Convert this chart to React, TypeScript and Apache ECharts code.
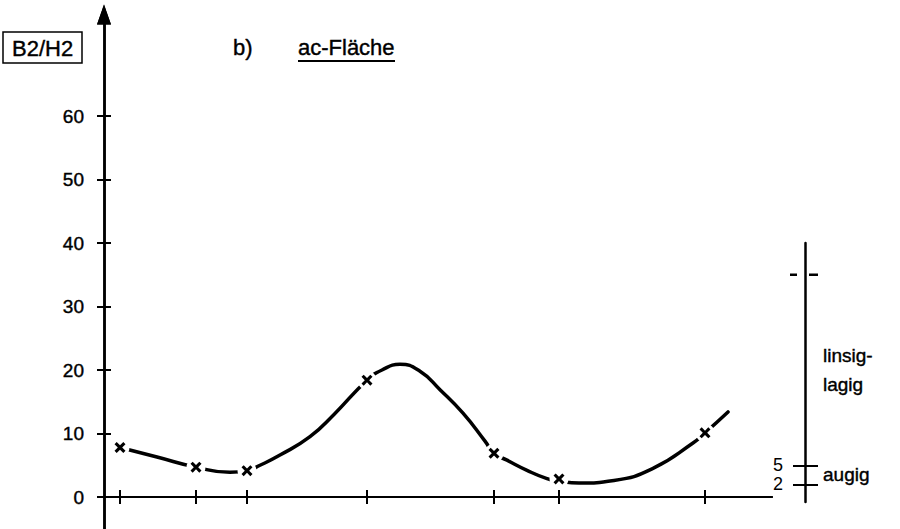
import React, { useEffect, useRef } from "react";
import * as echarts from "echarts";

// positions along the profile (x, arbitrary units) of the sampled points / ticks
const sampleX = [1.6, 9.2, 14.3, 26.3, 39.0, 45.5, 60.1];
// B2/H2 values at the samples (x markers)
const sampleY = [7.8, 4.7, 4.15, 18.4, 6.9, 2.85, 10.1];
// hand-drawn curve
const curveX = [1.6, 5.3, 9.2, 12.6, 14.3, 15.6, 17.6, 20.6, 23.0, 26.3, 27.8, 29.6, 31.6, 33.6, 35.9, 38.1, 39.0, 40.3, 42.3, 44.3, 45.5, 47.5, 51.0, 54.9, 58.9, 60.1, 62.4];
const curveY = [7.8, 6.3, 4.7, 3.9, 4.15, 5.0, 6.6, 9.5, 13.0, 18.4, 20.0, 20.9, 19.8, 16.9, 13.2, 8.8, 6.9, 5.8, 4.2, 2.9, 2.5, 2.2, 2.6, 4.5, 8.5, 10.1, 13.4];
// left axis ticks
const yTicks = [0, 10, 20, 30, 40, 50, 60];
// right (classification) axis
const rightTicks = [2, 5];
const rightMark = [35];
const classPos = [20, 3.5];
const classLabels = ["linsig-\nlagig", "augig"];

const FONT = "Liberation Sans, Arial, sans-serif";
const TXT = { color: "#000", fontFamily: FONT, textBorderColor: "#000", textBorderWidth: 0.4 };

export default function App() {
  const ref = useRef<HTMLDivElement>(null);
  useEffect(() => {
    if (!ref.current) return;
    const chart = echarts.init(ref.current, undefined, { renderer: "svg" });
    const black = "#000";
    const axisBase = (inside: boolean, showLabel: boolean) => ({
      type: "value",
      gridIndex: 0,
      min: -5,
      max: 76,
      position: "left",
      axisLine: {
        show: true,
        onZero: true,
        onZeroAxisIndex: 0,
        symbol: ["none", "triangle"],
        symbolSize: [14, 20],
        lineStyle: { color: black, width: 2.5 },
      },
      axisTick: {
        show: true,
        inside,
        length: 7,
        customValues: yTicks,
        lineStyle: { color: black, width: 2 },
      },
      axisLabel: {
        show: showLabel,
        customValues: yTicks,
        margin: 20,
        fontSize: 19,
        ...TXT,
      },
      splitLine: { show: false },
    });
    const xBase = (inside: boolean) => ({
      type: "value",
      gridIndex: 0,
      min: 0,
      max: 66.8,
      position: "bottom",
      axisLine: {
        show: true,
        onZero: true,
        onZeroAxisIndex: 0,
        lineStyle: { color: black, width: 2 },
      },
      axisTick: {
        show: true,
        inside,
        length: 7,
        customValues: sampleX,
        lineStyle: { color: black, width: 2 },
      },
      axisLabel: { show: false },
      splitLine: { show: false },
    });
    const titleText = { fontSize: 22, fontWeight: "normal", ...TXT };
    const option: any = {
      animation: false,
      backgroundColor: "#fff",
      title: [
        {
          text: "B2/H2",
          left: 3,
          top: 32,
          borderColor: black,
          borderWidth: 1.5,
          padding: [5, 9, 4, 9],
          textStyle: titleText,
        },
        { text: "b)", left: 233, top: 36, padding: 0, textStyle: titleText },
        { text: "ac-Fläche", left: 298, top: 36, padding: 0, textStyle: titleText },
      ],
      graphic: [
        {
          type: "line",
          shape: { x1: 298, y1: 61, x2: 395, y2: 61 },
          style: { stroke: black, lineWidth: 2 },
        },
      ],
      grid: [
        { left: 104, width: 668, top: 14.4, bottom: 0.25, containLabel: false, outerBoundsMode: "none" },
        { left: 805, width: 1, top: 243, bottom: 26.9, containLabel: false, outerBoundsMode: "none" },
      ],
      xAxis: [
        xBase(false),
        xBase(true),
        { type: "value", gridIndex: 1, min: 0, max: 1, show: false },
      ],
      yAxis: [
        axisBase(false, true),
        axisBase(true, false),
        {
          type: "value",
          gridIndex: 1,
          min: -0.8,
          max: 40,
          position: "left",
          axisLine: { show: true, onZero: false, lineStyle: { color: black, width: 2.5 } },
          axisTick: { show: true, length: 12, customValues: rightTicks, lineStyle: { color: black, width: 2 } },
          axisLabel: {
            customValues: rightTicks,
            margin: 22,
            fontSize: 18,
            color: black,
            fontFamily: FONT,
          },
          splitLine: { show: false },
        },
        {
          type: "value",
          gridIndex: 1,
          min: -0.8,
          max: 40,
          position: "right",
          axisLine: { show: false, onZero: false },
          axisTick: { show: true, length: 12, customValues: rightTicks, lineStyle: { color: black, width: 2 } },
          axisLabel: {
            customValues: classPos,
            margin: 17,
            fontSize: 19,
            lineHeight: 29,
            ...TXT,
            formatter: (v: number) => classLabels[classPos.indexOf(v)] ?? "",
          },
          splitLine: { show: false },
        },
      ],
      series: [
        {
          type: "line",
          xAxisIndex: 0,
          yAxisIndex: 0,
          data: curveX.map((x, i) => [x, curveY[i]]),
          smooth: 0.5,
          showSymbol: false,
          symbol: "none",
          lineStyle: { color: black, width: 3.5, cap: "round" },
          z: 2,
        },
        {
          type: "scatter",
          xAxisIndex: 0,
          yAxisIndex: 0,
          data: sampleX.map((x, i) => [x, sampleY[i]]),
          symbol: "circle",
          symbolSize: 19,
          itemStyle: { color: "#fff", opacity: 1 },
          z: 3,
          silent: true,
        },
        {
          type: "scatter",
          xAxisIndex: 0,
          yAxisIndex: 0,
          data: sampleX.map((x, i) => [x, sampleY[i]]),
          symbol: "path://M2,0L5,3L8,0L10,2L7,5L10,8L8,10L5,7L2,10L0,8L3,5L0,2Z",
          symbolSize: 11,
          itemStyle: { color: black, opacity: 1 },
          z: 4,
        },
        {
          type: "scatter",
          xAxisIndex: 2,
          yAxisIndex: 2,
          data: rightMark.map((v) => [0, v]),
          symbol: "path://M0,0h7v2.5h-7zM19,0h9v2.5h-9z",
          symbolSize: [28, 2.5],
          symbolKeepAspect: false,
          symbolOffset: [-1, 0],
          itemStyle: { color: black, opacity: 1 },
          z: 4,
        },
      ],
    };
    chart.setOption(option);
    return () => chart.dispose();
  }, []);
  return (
    <div
      ref={ref}
      style={{ position: "fixed", left: 0, top: 0, width: 900, height: 529, background: "#fff" }}
    />
  );
}
